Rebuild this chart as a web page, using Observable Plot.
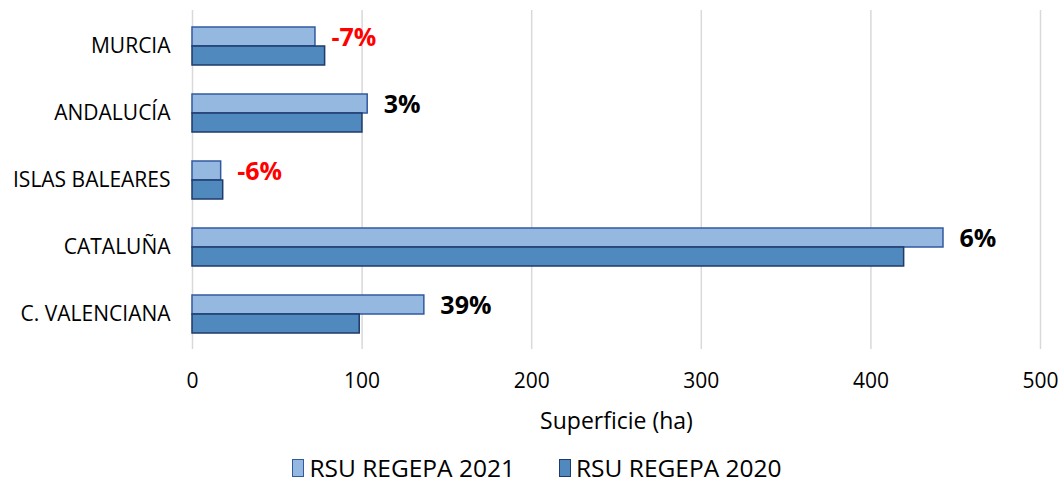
<!DOCTYPE html>
<html><head><meta charset="utf-8">
<script src="https://cdn.jsdelivr.net/npm/d3@7"></script>
<script src="https://cdn.jsdelivr.net/npm/@observablehq/plot@0.6"></script>
<style>
body{margin:0;background:#fff;font-family:"Open Sans",Lato,sans-serif;overflow:hidden;}
#legend{position:absolute;top:454px;left:0;width:1058px;height:28px;display:flex;justify-content:center;align-items:center;gap:44px;font-size:24.5px;line-height:28px;color:#000;padding-left:16px;box-sizing:border-box;}
.item{display:flex;align-items:center;gap:5px;}
.sw{width:10px;height:16px;border:1.5px solid;}
</style>
</head><body><div id="chart"></div><div id="legend"></div><script>
const regions = ["MURCIA","ANDALUCÍA","ISLAS BALEARES","CATALUÑA","C. VALENCIANA"];
const rsu2021 = [72.5,103.3,16.9,442.8,136.7];
const rsu2020 = [78.2,100.2,18.1,419.6,98.6];
const changeLabels = ["-7%","3%","-6%","6%","39%"];
const seriesNames = ["RSU REGEPA 2021","RSU REGEPA 2020"];
const xTicks = [0,100,200,300,400,500];
const fills = ["#95b8e0","#4f89bd"];
const strokes = ["#3259a0","#1f3a6b"];

const data = regions.map((r,i)=>({region:r, v2021:rsu2021[i], v2020:rsu2020[i], label:changeLabels[i], neg:changeLabels[i].startsWith("-")}));

const chart = Plot.plot({
  width:1058, height:445,
  marginLeft:192, marginRight:18, marginTop:10, marginBottom:96,
  style:{fontFamily:"'Open Sans',Lato,sans-serif", background:"#fff", color:"#000"},
  x:{domain:[0,500]},
  y:{domain:regions, paddingInner:0.44, paddingOuter:0.22},
  marks:[
    Plot.gridX(xTicks,{stroke:"#d9d9d9", strokeOpacity:1, strokeWidth:1.5}),
    Plot.barX(data,{x:"v2021", y:"region", insetBottom:19, fill:fills[0], stroke:strokes[0], strokeWidth:1.5}),
    Plot.barX(data,{x:"v2020", y:"region", insetTop:19, fill:fills[1], stroke:strokes[1], strokeWidth:1.5}),
    Plot.text(data,{x:"v2021", y:"region", text:"label", dx:16, dy:-9, textAnchor:"start", fontWeight:"bold", fontSize:25, fill:d=>d.neg?"#ff0000":"#000"}),
    Plot.axisX(xTicks,{tickSize:0, tickPadding:24, fontSize:21, label:null, tickFormat:d=>String(d)}),
    Plot.axisY({tickSize:0, tickPadding:22, fontSize:21, label:null}),
    Plot.text(["Superficie (ha)"],{frameAnchor:"bottom", lineAnchor:"middle", dy:72, fontSize:23, fill:"#000"})
  ]
});
document.getElementById("chart").appendChild(chart);

const legend = document.getElementById("legend");
seriesNames.forEach((s,i)=>{
  const it=document.createElement("div"); it.className="item";
  const sw=document.createElement("span"); sw.className="sw"; sw.style.background=fills[i]; sw.style.borderColor=strokes[i];
  const t=document.createElement("span"); t.textContent=s;
  it.appendChild(sw); it.appendChild(t); legend.appendChild(it);
});
</script></body></html>
